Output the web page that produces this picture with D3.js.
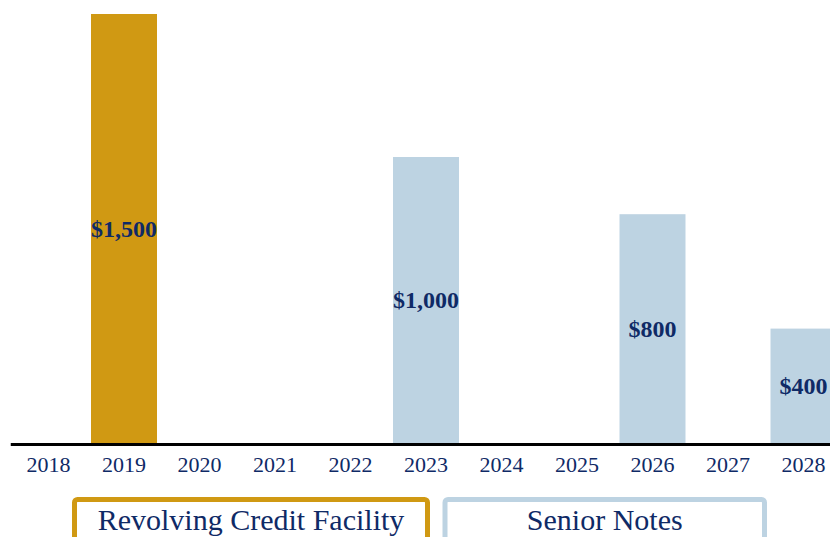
<!DOCTYPE html>
<html><head><meta charset="utf-8">
<script src="https://cdn.jsdelivr.net/npm/d3@7"></script>
<style>html,body{margin:0;padding:0;background:#fff;overflow:hidden}</style>
</head><body>
<svg id="chart" width="830" height="537"></svg>
<script>
const years = ["2018","2019","2020","2021","2022","2023","2024","2025","2026","2027","2028"];
const revolver = [0,1500,0,0,0,0,0,0,0,0,0];
const seniorNotes = [0,0,0,0,0,1000,0,0,800,0,400];
const legendLabels = ["Revolving Credit Facility","Senior Notes"];
const colors = ["#D09913","#BDD3E2"];
const textColor = "#0F2A66";
const fontFam = "'Liberation Serif','DejaVu Serif',serif";

const svg = d3.select("#chart");
const x = d3.scaleBand().domain(years).range([10.75, 841.25]).paddingInner(0.126).paddingOuter(0.063);
const y = d3.scaleLinear().domain([0,1500]).range([443,14]);

const data = years.map((yr,i)=>({yr, rev: revolver[i], sn: seniorNotes[i]}));

const series = [
  {key:"rev", color:colors[0]},
  {key:"sn", color:colors[1]}
];
series.forEach(s=>{
  const d = data.filter(e=>e[s.key]>0);
  svg.append("g").selectAll("rect").data(d).join("rect")
    .attr("x", e=>x(e.yr)).attr("width", x.bandwidth())
    .attr("y", e=>y(e[s.key])).attr("height", e=>y(0)-y(e[s.key]))
    .attr("fill", s.color);
  svg.append("g").selectAll("text").data(d).join("text")
    .attr("x", e=>x(e.yr)+x.bandwidth()/2)
    .attr("y", e=>(y(e[s.key])+y(0))/2)
    .attr("dy","0.35em")
    .attr("text-anchor","middle")
    .attr("font-family",fontFam).attr("font-weight","bold").attr("font-size","24px")
    .attr("fill",textColor)
    .text(e=>"$"+d3.format(",")(e[s.key]));
});

const axis = d3.axisBottom(x).tickSize(0).tickPadding(12);
const ax = svg.append("g").attr("transform","translate(0,444.5)").call(axis);
ax.select(".domain").attr("stroke","#000").attr("stroke-width",3).attr("d","M10.75,0H841.25");
ax.selectAll("text").attr("font-family",fontFam).attr("font-size","22px").attr("fill",textColor);

// legend
const legX = [74.5, 445];
const legW = [353, 319.5];
legendLabels.forEach((lab,i)=>{
  svg.append("rect").attr("x",legX[i]).attr("y",499.5).attr("width",legW[i]).attr("height",60)
    .attr("rx",3).attr("fill","#fff").attr("stroke",colors[i]).attr("stroke-width",5);
  svg.append("text").attr("x",legX[i]+legW[i]/2).attr("y",530)
    .attr("text-anchor","middle").attr("font-family",fontFam).attr("font-size","30px")
    .attr("fill",textColor).text(lab);
});
</script>
</body></html>
